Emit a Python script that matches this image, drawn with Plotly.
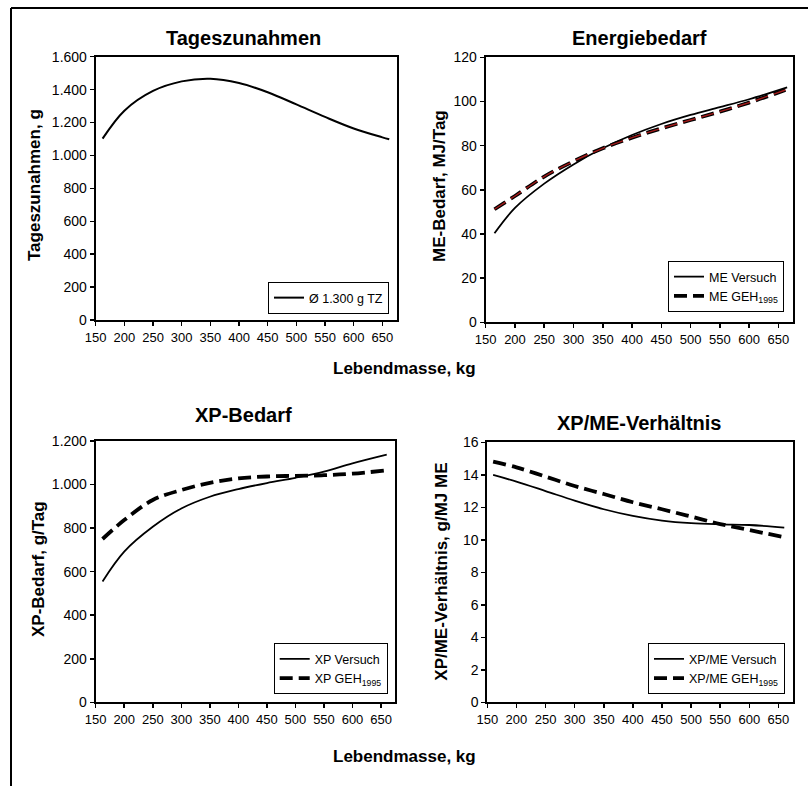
import plotly.graph_objects as go

W, H = 808, 786

# ---------------- data ----------------
x_ticks = [150, 200, 250, 300, 350, 400, 450, 500, 550, 600, 650]

tz_x = [162, 200, 250, 300, 350, 400, 450, 500, 550, 600, 650, 662]
tz_y = [1102, 1272, 1392, 1450, 1466, 1440, 1384, 1310, 1234, 1164, 1110, 1098]

me_x = [165, 200, 250, 300, 350, 400, 450, 500, 550, 600, 665]
me_versuch = [40.3, 51.8, 62.8, 71.5, 78.8, 84.8, 89.8, 93.9, 97.4, 101.0, 106.4]
me_geh_x = [165, 200, 250, 300, 350, 400, 450, 500, 550, 600, 662]
me_geh = [51.2, 57.2, 66.0, 72.9, 78.8, 83.6, 87.8, 91.6, 95.4, 99.5, 105.2]

xp_x = [162, 200, 250, 300, 350, 400, 450, 500, 550, 600, 660]
xp_versuch = [555, 692, 806, 890, 944, 979, 1007, 1031, 1059, 1097, 1137]
xp_geh_x = [162, 200, 250, 300, 350, 400, 450, 500, 550, 600, 655]
xp_geh = [750, 837, 929, 975, 1008, 1028, 1037, 1040, 1043, 1050, 1064]

r_x = [160, 200, 250, 300, 350, 400, 450, 500, 550, 600, 660]
r_versuch = [13.99, 13.58, 13.0, 12.41, 11.88, 11.47, 11.18, 11.02, 10.95, 10.91, 10.75]
r_geh_x = [160, 200, 250, 300, 350, 400, 450, 500, 550, 600, 655]
r_geh = [14.81, 14.46, 13.89, 13.31, 12.82, 12.31, 11.88, 11.43, 10.97, 10.60, 10.20]

y1_vals = [0, 200, 400, 600, 800, 1000, 1200, 1400, 1600]
y1_text = ["0", "200", "400", "600", "800", "1.000", "1.200", "1.400", "1.600"]
y2_vals = [0, 20, 40, 60, 80, 100, 120]
y3_vals = [0, 200, 400, 600, 800, 1000, 1200]
y3_text = ["0", "200", "400", "600", "800", "1.000", "1.200"]
y4_vals = [0, 2, 4, 6, 8, 10, 12, 14, 16]

titles = ["Tageszunahmen", "Energiebedarf", "XP-Bedarf", "XP/ME-Verhältnis"]
ytitles = ["Tageszunahmen, g", "ME-Bedarf, MJ/Tag", "XP-Bedarf, g/Tag", "XP/ME-Verhältnis, g/MJ ME"]
xtitle = "Lebendmasse, kg"

# ---------------- layout helpers ----------------
FONT = "Arial, Liberation Sans, sans-serif"

def px_x(v):
    return v / W

def px_y(v):
    return 1 - v / H

# plot areas in pixels: (left, right, top, bottom)
areas = [
    (95.7, 396.7, 56.7, 320.0),
    (485.7, 793.0, 57.3, 322.3),
    (95.7, 395.3, 441.0, 702.3),
    (487.3, 793.0, 442.3, 702.3),
]

fig = go.Figure()

SOLID_W = 1.8
DASH = "13px,6px"
DASH_W = 3.8

# Plot 1
fig.add_trace(go.Scatter(x=tz_x, y=tz_y, mode="lines", line=dict(color="black", width=2, shape="spline"),
                         name="Ø 1.300 g TZ", xaxis="x", yaxis="y", legend="legend"))
# Plot 2
fig.add_trace(go.Scatter(x=me_x, y=me_versuch, mode="lines", line=dict(color="black", width=SOLID_W, shape="spline"),
                         name="ME Versuch", xaxis="x2", yaxis="y2", legend="legend2"))
fig.add_trace(go.Scatter(x=me_geh_x, y=me_geh, mode="lines", line=dict(color="black", width=DASH_W, dash=DASH, shape="spline"),
                         name="ME GEH<sub>1995</sub>", xaxis="x2", yaxis="y2", legend="legend2"))
fig.add_trace(go.Scatter(x=me_geh_x, y=me_geh, mode="lines", line=dict(color="#a31a1a", width=1.4, dash=DASH, shape="spline"),
                         showlegend=False, xaxis="x2", yaxis="y2", hoverinfo="skip"))
# Plot 3
fig.add_trace(go.Scatter(x=xp_x, y=xp_versuch, mode="lines", line=dict(color="black", width=SOLID_W, shape="spline"),
                         name="XP Versuch", xaxis="x3", yaxis="y3", legend="legend3"))
fig.add_trace(go.Scatter(x=xp_geh_x, y=xp_geh, mode="lines", line=dict(color="black", width=DASH_W, dash=DASH, shape="spline"),
                         name="XP GEH<sub>1995</sub>", xaxis="x3", yaxis="y3", legend="legend3"))
# Plot 4
fig.add_trace(go.Scatter(x=r_x, y=r_versuch, mode="lines", line=dict(color="black", width=SOLID_W, shape="spline"),
                         name="XP/ME Versuch", xaxis="x4", yaxis="y4", legend="legend4"))
fig.add_trace(go.Scatter(x=r_geh_x, y=r_geh, mode="lines", line=dict(color="black", width=DASH_W, dash=DASH, shape="spline"),
                         name="XP/ME GEH<sub>1995</sub>", xaxis="x4", yaxis="y4", legend="legend4"))

layout = dict(
    width=W, height=H,
    margin=dict(l=0, r=0, t=0, b=0, pad=0, autoexpand=False),
    paper_bgcolor="white", plot_bgcolor="white",
    font=dict(family=FONT, color="black"),
    showlegend=True,
)

yspecs = [
    (y1_vals, y1_text, [0, 1600]),
    (y2_vals, [str(v) for v in y2_vals], [0, 120]),
    (y3_vals, y3_text, [0, 1200]),
    (y4_vals, [str(v) for v in y4_vals], [0, 16]),
]

for i, (area, ys) in enumerate(zip(areas, yspecs)):
    l, r, t, b = area
    sfx = "" if i == 0 else str(i + 1)
    ax_common = dict(showline=True, linecolor="black", linewidth=2, mirror=True,
                     ticks="outside", ticklen=4, tickwidth=1.5, tickcolor="black",
                     showgrid=False, zeroline=False, fixedrange=True, automargin=False)
    layout["xaxis" + sfx] = dict(domain=[px_x(l), px_x(r)], range=[150, 675],
                                 tickvals=x_ticks, ticktext=[str(v) for v in x_ticks],
                                 tickfont=dict(size=13, family=FONT, color="black"),
                                 anchor="y" + sfx, **ax_common)
    layout["yaxis" + sfx] = dict(domain=[px_y(b), px_y(t)], range=ys[2],
                                 tickvals=ys[0], ticktext=ys[1],
                                 tickfont=dict(size=14, family=FONT, color="black"),
                                 anchor="x" + sfx, **ax_common)

legend_boxes = [
    (389, 314),
    (784, 312),
    (387.7, 694.3),
    (785, 694.3),
]
for i, (rx, by) in enumerate(legend_boxes):
    key = "legend" if i == 0 else "legend" + str(i + 1)
    layout[key] = dict(x=px_x(rx), y=px_y(by), xanchor="right", yanchor="bottom",
                       bgcolor="white", bordercolor="black", borderwidth=1,
                       font=dict(size=12.5, family=FONT, color="black"),
                       tracegroupgap=0, itemwidth=30)

annotations = []
title_pos = [(243, 38), (639, 38), (243, 415), (639, 423)]
for txt, (x, y) in zip(titles, title_pos):
    annotations.append(dict(text="<b>" + txt + "</b>", x=px_x(x), y=px_y(y), xref="paper", yref="paper",
                            showarrow=False, xanchor="center", yanchor="middle",
                            font=dict(size=20, family=FONT, color="black")))
ytitle_pos = [(35, 185), (439, 186), (38, 569), (440.7, 572)]
for txt, (x, y) in zip(ytitles, ytitle_pos):
    annotations.append(dict(text="<b>" + txt + "</b>", x=px_x(x), y=px_y(y), xref="paper", yref="paper",
                            showarrow=False, xanchor="center", yanchor="middle", textangle=-90,
                            font=dict(size=17, family=FONT, color="black")))
for y in (369, 756):
    annotations.append(dict(text="<b>" + xtitle + "</b>", x=px_x(404), y=px_y(y), xref="paper", yref="paper",
                            showarrow=False, xanchor="center", yanchor="middle",
                            font=dict(size=17, family=FONT, color="black")))
layout["annotations"] = annotations

layout["shapes"] = [
    dict(type="line", xref="paper", yref="paper", x0=px_x(11), x1=1, y0=px_y(8), y1=px_y(8),
         line=dict(color="black", width=2)),
    dict(type="line", xref="paper", yref="paper", x0=px_x(11), x1=px_x(11), y0=px_y(8), y1=0,
         line=dict(color="black", width=2)),
]

fig.update_layout(**layout)
fig.write_html("out.html", config={"displayModeBar": False, "staticPlot": True},
               post_script="document.body.style.margin='0';document.body.style.overflow='hidden';")
